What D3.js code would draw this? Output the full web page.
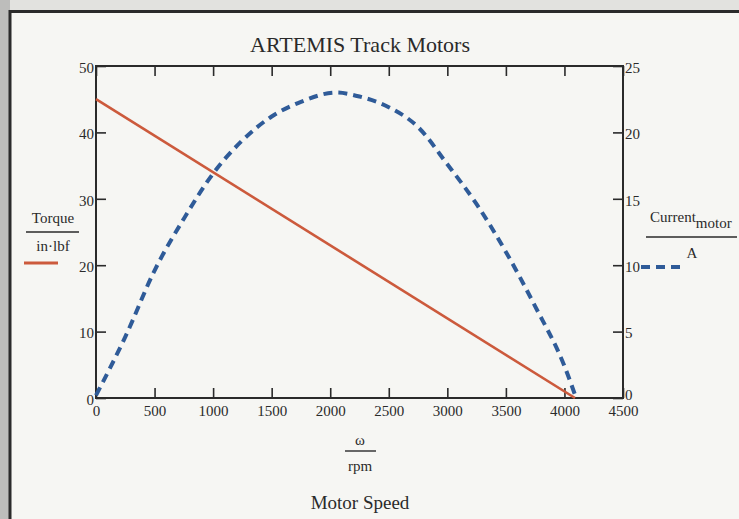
<!DOCTYPE html>
<html>
<head>
<meta charset="utf-8">
<script src="https://cdn.jsdelivr.net/npm/d3@7"></script>
<style>
  body { margin: 0; background: #f6f6f3; }
  svg { display: block; }
  text { font-family: "Liberation Serif", "Times New Roman", serif; fill: #2a2a2a; }
</style>
</head>
<body>
<div id="graph-section"></div>
<script>
// values
var torqueSpeed = [0, 4090];          // rpm
var torqueValues = [45, 0];           // in*lbf
var currentSpeed = [0, 250, 500, 750, 1000, 1250, 1500, 1750, 2050, 2250, 2500, 2750, 3000, 3250, 3500, 3750, 4000, 4100];
var currentValues = [0.2, 4.6, 9.6, 13.5, 16.9, 19.4, 21.2, 22.3, 23.0, 22.7, 21.9, 20.4, 17.6, 14.6, 11.0, 6.9, 2.4, 0];
var xTicks = [0, 500, 1000, 1500, 2000, 2500, 3000, 3500, 4000, 4500];
var leftTicks = [0, 10, 20, 30, 40, 50];
var rightTicks = [0, 5, 10, 15, 20, 25];

var fullWidth = 739, fullHeight = 519;
var margin = {top: 66, left: 96, right: 116, bottom: 121};
var width = fullWidth - margin.left - margin.right;   // 527
var height = fullHeight - margin.top - margin.bottom; // 332

var red = '#cc5a3c';
var blue = '#2f5b98';

var root = d3.select('div#graph-section').append('svg')
    .attr('width', fullWidth)
    .attr('height', fullHeight);

// scan edges outside the printed frame
root.append('rect').attr('x', 0).attr('y', 0).attr('width', fullWidth).attr('height', 11).attr('fill', '#e2e2df');
root.append('rect').attr('x', 0).attr('y', 0).attr('width', 10).attr('height', fullHeight).attr('fill', '#bdbdbb');
root.append('path')
    .attr('d', 'M10,' + fullHeight + 'V11.5H' + fullWidth)
    .attr('fill', 'none')
    .attr('stroke', '#2b2b2b')
    .attr('stroke-width', 3);

var svg = root.append('g')
    .attr('transform', 'translate(' + margin.left + ',' + margin.top + ')');

var xScale = d3.scaleLinear().domain([0, 4500]).range([0, width]);
var yLeft = d3.scaleLinear().domain([0, 50]).range([height, 0]);
var yRight = d3.scaleLinear().domain([0, 25]).range([height, 0]);

// inward ticks on all four sides, Mathcad style
var tickLen = 10;
var fmt = d3.format('d');
var xAxis = d3.axisBottom(xScale).tickValues(xTicks).tickFormat(fmt).tickSizeInner(-tickLen).tickSizeOuter(0).tickPadding(7);
var xTop = d3.axisTop(xScale).tickValues(xTicks).tickSizeInner(-tickLen).tickSizeOuter(0).tickFormat('');
var yAxis = d3.axisLeft(yLeft).tickValues(leftTicks).tickFormat(fmt).tickSizeInner(-tickLen).tickSizeOuter(0).tickPadding(2);
var yAxis2 = d3.axisRight(yRight).tickValues(rightTicks).tickFormat(fmt).tickSizeInner(-tickLen).tickSizeOuter(0).tickPadding(2);

function styleAxis(g) {
    g.select('.domain').remove();
    g.selectAll('line').attr('stroke', '#2a2a2a').attr('stroke-width', 1.6);
    g.selectAll('text')
        .style('font-family', '"Liberation Serif", serif')
        .style('font-size', '15px')
        .attr('fill', '#2a2a2a');
}

svg.append('g').attr('transform', 'translate(0,' + height + ')').call(xAxis).call(styleAxis);
svg.append('g').call(xTop).call(styleAxis);
var yl = svg.append('g').call(yAxis).call(styleAxis);
yl.selectAll('text').attr('dy', '0.62em').attr('y', -3);
var yr = svg.append('g').attr('transform', 'translate(' + width + ',0)').call(yAxis2).call(styleAxis);
yr.selectAll('text').attr('dy', '0.62em').attr('y', function(d) { return d === 0 ? -8 : -3; });

// plot frame
svg.append('rect')
    .attr('width', width).attr('height', height)
    .attr('fill', 'none')
    .attr('stroke', '#2a2a2a')
    .attr('stroke-width', 2);

// torque line
var torque = torqueSpeed.map(function(s, i) { return {s: s, v: torqueValues[i]}; });
svg.append('path')
    .datum(torque)
    .attr('fill', 'none')
    .attr('stroke', red)
    .attr('stroke-width', 2.6)
    .attr('d', d3.line().x(function(d) { return xScale(d.s); }).y(function(d) { return yLeft(d.v); }));

// current curve
var current = currentSpeed.map(function(s, i) { return {s: s, v: currentValues[i]}; });
svg.append('path')
    .datum(current)
    .attr('fill', 'none')
    .attr('stroke', blue)
    .attr('stroke-width', 4)
    .attr('stroke-dasharray', '9,6')
    .attr('d', d3.line().curve(d3.curveMonotoneX)
        .x(function(d) { return xScale(d.s); })
        .y(function(d) { return yRight(d.v); }));

// title
root.append('text')
    .attr('x', 360).attr('y', 52)
    .attr('text-anchor', 'middle')
    .style('font-size', '22px')
    .text('ARTEMIS Track Motors');

// left axis label + legend
root.append('text').attr('x', 53).attr('y', 223).attr('text-anchor', 'middle').style('font-size', '15px').text('Torque');
root.append('line').attr('x1', 26).attr('x2', 79).attr('y1', 232).attr('y2', 232).attr('stroke', '#2a2a2a').attr('stroke-width', 1.4);
root.append('text').attr('x', 53).attr('y', 251).attr('text-anchor', 'middle').style('font-size', '15px').text('in·lbf');
root.append('line').attr('x1', 24).attr('x2', 58).attr('y1', 263).attr('y2', 263).attr('stroke', red).attr('stroke-width', 3);

// right axis label + legend
var cur = root.append('text').attr('x', 650).attr('y', 222).style('font-size', '15px');
cur.append('tspan').text('Current');
cur.append('tspan').attr('dy', 6).text('motor');
root.append('line').attr('x1', 646).attr('x2', 737).attr('y1', 237).attr('y2', 237).attr('stroke', '#2a2a2a').attr('stroke-width', 1.4);
root.append('text').attr('x', 692).attr('y', 258).attr('text-anchor', 'middle').style('font-size', '15px').text('A');
root.append('line').attr('x1', 641).attr('x2', 681).attr('y1', 267).attr('y2', 267)
    .attr('stroke', blue).attr('stroke-width', 4).attr('stroke-dasharray', '9,6');

// x axis label
root.append('text').attr('x', 360).attr('y', 445).attr('text-anchor', 'middle').style('font-size', '15px').text('ω');
root.append('line').attr('x1', 345).attr('x2', 376).attr('y1', 451).attr('y2', 451).attr('stroke', '#2a2a2a').attr('stroke-width', 1.4);
root.append('text').attr('x', 360).attr('y', 471).attr('text-anchor', 'middle').style('font-size', '15px').text('rpm');
root.append('text').attr('x', 360).attr('y', 509).attr('text-anchor', 'middle').style('font-size', '19px').text('Motor Speed');
</script>
</body>
</html>
